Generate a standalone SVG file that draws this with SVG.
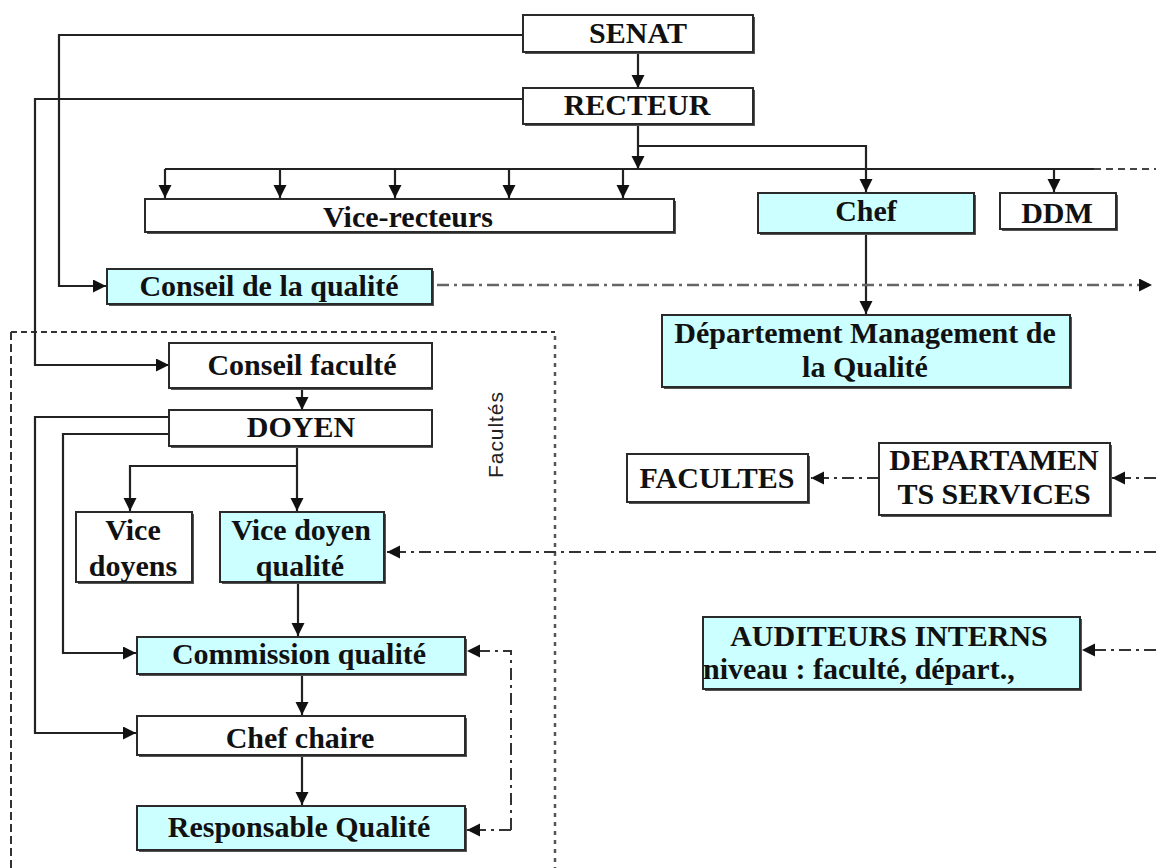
<svg xmlns="http://www.w3.org/2000/svg" width="1156" height="868" viewBox="0 0 1156 868">
<defs>
<style>
.b{fill:#fff;stroke:#2a2a2a;stroke-width:2}
.c{fill:#ccffff;stroke:#2a2a2a;stroke-width:2}
.sh{fill:#555;stroke:none}
.t{font-family:"Liberation Serif","Times New Roman",serif;font-weight:bold;font-size:30px;fill:#111;text-anchor:middle}
.ln{fill:none;stroke:#222;stroke-width:2.2}
.dd{fill:none;stroke:#333;stroke-width:2;stroke-dasharray:12 5 3 5}
.dg{fill:none;stroke:#666;stroke-width:2.5;stroke-dasharray:12 5 3 5}
</style>
<marker id="ah" markerUnits="userSpaceOnUse" markerWidth="14" markerHeight="14" refX="13" refY="6.5" orient="auto">
<path d="M0,0 L13,6.5 L0,13 z" fill="#111"/>
</marker>
</defs>
<rect width="1156" height="868" fill="#fff"/>

<g id="frame-facultes">
<path d="M11,332 H555" fill="none" stroke="#333" stroke-width="2" stroke-dasharray="6 4"/>
<path d="M11,332 V868" fill="none" stroke="#333" stroke-width="2" stroke-dasharray="8 4"/>
<path d="M555,336 V868" fill="none" stroke="#555" stroke-width="2.5" stroke-dasharray="4 5"/>
<text transform="translate(503,435) rotate(-90)" font-family="'Liberation Sans',Arial,sans-serif" font-size="21" fill="#222" text-anchor="middle" textLength="86">Facultés</text>
</g>

<g id="connectors">
<path class="ln" d="M638,52 V88" marker-end="url(#ah)"/>
<path class="ln" d="M523,35 H59 V286 H106" marker-end="url(#ah)"/>
<path class="ln" d="M523,99 H35 V365 H169" marker-end="url(#ah)"/>
<path class="ln" d="M638,124 V169" marker-end="url(#ah)"/>
<path class="ln" d="M638,146 H866 V192" marker-end="url(#ah)"/>
<path class="ln" d="M165,169 H1094"/>
<path d="M1094,169 H1156" fill="none" stroke="#444" stroke-width="2" stroke-dasharray="7 5"/>
<path class="ln" d="M165,169 V198" marker-end="url(#ah)"/>
<path class="ln" d="M280,169 V198" marker-end="url(#ah)"/>
<path class="ln" d="M395,169 V198" marker-end="url(#ah)"/>
<path class="ln" d="M509,169 V198" marker-end="url(#ah)"/>
<path class="ln" d="M623,169 V198" marker-end="url(#ah)"/>
<path class="ln" d="M1054,169 V192" marker-end="url(#ah)"/>
<path class="ln" d="M866,234 V314" marker-end="url(#ah)"/>
<path class="dg" d="M437,285 H1152" marker-end="url(#ah)"/>
<path class="ln" d="M302,389 V410" marker-end="url(#ah)"/>
<path class="ln" d="M170,417 H35 V733 H136" marker-end="url(#ah)"/>
<path class="ln" d="M170,434 H63 V653 H136" marker-end="url(#ah)"/>
<path class="ln" d="M297,447 V511" marker-end="url(#ah)"/>
<path class="ln" d="M297,466 H130 V511" marker-end="url(#ah)"/>
<path class="ln" d="M298,583 V636" marker-end="url(#ah)"/>
<path class="ln" d="M302,675 V715" marker-end="url(#ah)"/>
<path class="ln" d="M302,756 V805" marker-end="url(#ah)"/>
<path class="dd" d="M1156,552 H387" marker-end="url(#ah)"/>
<path class="dd" d="M879,478 H811" marker-end="url(#ah)"/>
<path class="dd" d="M1156,478 H1112" marker-end="url(#ah)"/>
<path class="dd" d="M1156,650 H1082" marker-end="url(#ah)"/>
<path class="dd" d="M511,830 V651 H467" marker-end="url(#ah)"/>
<path class="dd" d="M511,830 H467" marker-end="url(#ah)"/>
</g>

<g id="senat"><rect class="sh" x="525" y="17" width="230" height="37"/><rect class="b" x="523" y="15" width="230" height="37"/><text class="t" x="638" y="43">SENAT</text></g>
<g id="recteur"><rect class="sh" x="525" y="90" width="230" height="36"/><rect class="b" x="523" y="88" width="230" height="36"/><text class="t" x="637" y="115">RECTEUR</text></g>
<g id="vice-recteurs"><rect class="sh" x="147" y="201" width="529" height="33"/><rect class="b" x="145" y="199" width="529" height="33"/><text class="t" x="408" y="227">Vice-recteurs</text></g>
<g id="chef"><rect class="sh" x="760" y="195" width="216" height="40"/><rect class="c" x="758" y="193" width="216" height="40"/><text class="t" x="866" y="221">Chef</text></g>
<g id="ddm"><rect class="sh" x="1002" y="195" width="116" height="36"/><rect class="b" x="1000" y="193" width="116" height="36"/><text class="t" x="1057" y="223">DDM</text></g>
<g id="conseil-qualite"><rect class="sh" x="109" y="271" width="325" height="35"/><rect class="c" x="107" y="269" width="325" height="35"/><text class="t" x="269" y="296">Conseil de la qualité</text></g>
<g id="departement-mq"><rect class="sh" x="664" y="317" width="408" height="72"/><rect class="c" x="662" y="315" width="408" height="72"/><text class="t" x="865" y="343">Département Management de</text><text class="t" x="865" y="377">la Qualité</text></g>
<g id="conseil-faculte"><rect class="sh" x="171" y="345" width="262" height="45"/><rect class="b" x="169" y="343" width="263" height="45"/><text class="t" x="302" y="375">Conseil faculté</text></g>
<g id="doyen"><rect class="sh" x="171" y="412" width="262" height="36"/><rect class="b" x="169" y="410" width="263" height="36"/><text class="t" x="301" y="437">DOYEN</text></g>
<g id="facultes"><rect class="sh" x="629" y="456" width="181" height="48"/><rect class="b" x="627" y="454" width="181" height="48"/><text class="t" x="717" y="488">FACULTES</text></g>
<g id="departements-services"><rect class="sh" x="881" y="445" width="231" height="72"/><rect class="b" x="879" y="443" width="231" height="72"/><text class="t" x="994" y="470">DEPARTAMEN</text><text class="t" x="994" y="504">TS SERVICES</text></g>
<g id="vice-doyens"><rect class="sh" x="78" y="514" width="116" height="70"/><rect class="b" x="76" y="512" width="116" height="70"/><text class="t" x="133" y="540">Vice</text><text class="t" x="133" y="576">doyens</text></g>
<g id="vice-doyen-qualite"><rect class="sh" x="222" y="514" width="164" height="70"/><rect class="c" x="220" y="512" width="164" height="70"/><text class="t" x="301" y="540">Vice doyen</text><text class="t" x="300" y="576">qualité</text></g>
<g id="commission-qualite"><rect class="sh" x="139" y="639" width="328" height="37"/><rect class="c" x="137" y="637" width="328" height="37"/><text class="t" x="299" y="664">Commission qualité</text></g>
<g id="auditeurs"><rect class="sh" x="705" y="619" width="377" height="72"/><rect class="c" x="703" y="617" width="377" height="72"/><text class="t" x="889" y="646">AUDITEURS INTERNS</text><text class="t" x="703" y="679" style="text-anchor:start">niveau : faculté, départ.,</text></g>
<g id="chef-chaire"><rect class="sh" x="139" y="718" width="328" height="39"/><rect class="b" x="137" y="716" width="328" height="39"/><text class="t" x="300" y="748">Chef chaire</text></g>
<g id="responsable-qualite"><rect class="sh" x="139" y="808" width="328" height="44"/><rect class="c" x="137" y="806" width="328" height="44"/><text class="t" x="299" y="837">Responsable Qualité</text></g>
</svg>
